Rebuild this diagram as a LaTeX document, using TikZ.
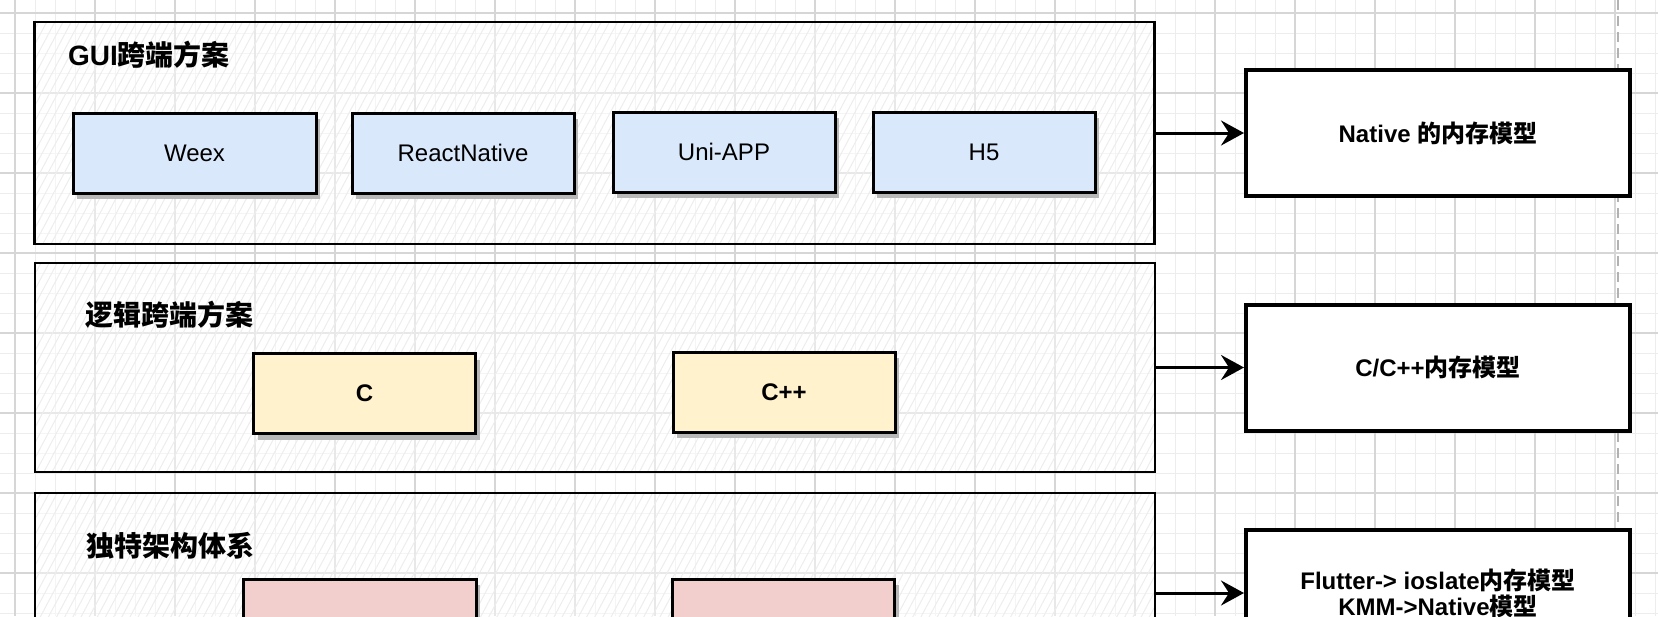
\documentclass[tikz,border=0pt]{standalone}
\usepackage{fontspec}
\setmainfont{Liberation Sans}
\newfontfamily\cjk{Noto Sans CJK SC}
\usetikzlibrary{positioning,arrows.meta,shadows,patterns.meta}
\newcommand\zh[1]{{\cjk #1}}

\begin{document}
\begin{tikzpicture}[x=0.5pt,y=-0.5pt,node distance=130pt,on grid,
  minorline/.style={draw=black!7,line width=0.5pt},
  majorline/.style={draw=black!16,line width=0.6pt},
  group/.style={draw,line width=1.2pt,minimum width=560pt,
    preaction={fill=white,fill opacity=0.45},
    pattern={Lines[angle=62,distance=3.6pt,line width=0.5pt]},pattern color=black!7},
  title/.style={anchor=west,font=\fontsize{14}{16}\selectfont\bfseries},
  box/.style={draw,line width=1.5pt,minimum width=111pt,minimum height=40pt,
    font=\fontsize{12}{14}\selectfont,
    drop shadow={shadow xshift=2pt,shadow yshift=-3pt,fill=black!28,opacity=1}},
  blue/.style={box,fill={rgb,255:red,218;green,232;blue,252}},
  yellow/.style={box,fill={rgb,255:red,255;green,242;blue,204},font=\fontsize{12}{14}\selectfont\bfseries},
  pink/.style={box,fill={rgb,255:red,242;green,206;blue,204}},
  model/.style={draw,fill=white,line width=2pt,minimum width=192pt,minimum height=63pt,
    align=center,font=\fontsize{12}{13}\selectfont\bfseries}]

\useasboundingbox (0,0) rectangle (1658,616);
\clip (0,0) rectangle (1658,616);

% grid
\foreach \x in {15,35,...,1655} \draw[minorline] (\x,0) -- (\x,616);
\foreach \y in {13,33,...,613} \draw[minorline] (0,\y) -- (1658,\y);
\foreach \x in {15,95,...,1655} \draw[majorline] (\x,0) -- (\x,616);
\foreach \y in {13,93,...,613} \draw[majorline] (0,\y) -- (1658,\y);
\draw[black!30,line width=0.8pt,dash pattern=on 5pt off 3pt] (1618,0) -- (1618,616);

% groups
\node[group,minimum height=111pt] (gui) at (594.5,133) {};
\node[group,minimum height=104.5pt] (logic) at (595,367.5) {};
\node[group,minimum height=100pt] (arch) at (595,593) {};

\node[title] (gui_t) at (61,55) {GUI\zh{跨端方案}};
\node[title] (logic_t) at (78,315) {\zh{逻辑跨端方案}};
\node[title] (arch_t) at (79,546) {\zh{独特架构体系}};

% GUI
\node[blue,minimum width=121.5pt] (weex) at (194.5,153) {Weex};
\node[blue] (rn) at (463,153) {ReactNative};
\node[blue] (uni) at (724,152) {Uni-APP};
\node[blue] (h5) [right=of uni] {H5};

% logic
\node[yellow] (c) at (364.5,393.5) {C};
\node[yellow] (cpp) at (784,392) {C++};

% arch
\node[pink,minimum width=116.5pt] (p_1) at (359.5,619) {};
\node[pink] (p_2) at (783.5,619) {};

% models
\node[model] (native) at (1438,133) {Native \zh{的内存模型}};
\node[model] (cmodel) at (1438,367.5) {C/C++\zh{内存模型}};
\node[model] (flutter) at (1438,593) {Flutter-> ioslate\zh{内存模型}\\KMM->Native\zh{模型}};

\path[-{Stealth[length=11.5pt,width=12.5pt,inset=4pt]},line width=1.5pt]
(gui) edge (native)
(logic) edge (cmodel)
(arch) edge (flutter)
;
\end{tikzpicture}
\end{document}
